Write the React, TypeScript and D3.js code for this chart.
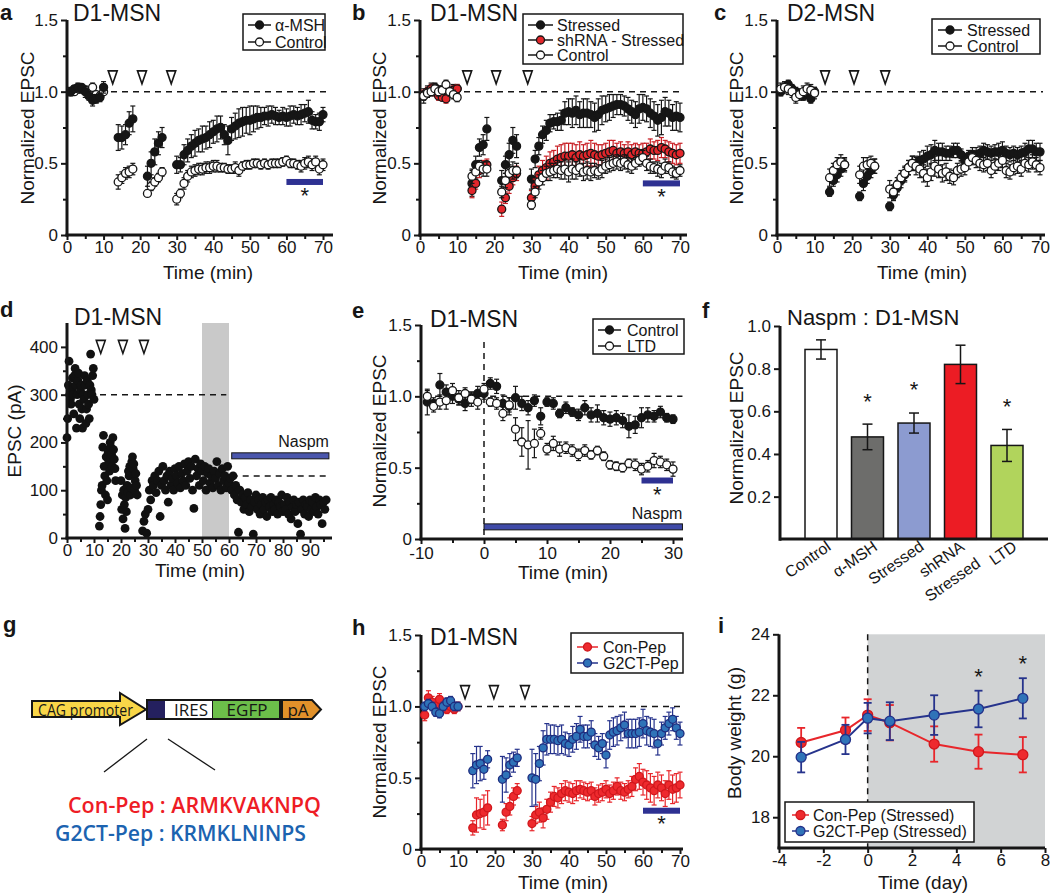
import React, { useEffect, useRef } from 'react'
import * as d3 from 'd3'

const FONT = '"Liberation Sans", Arial, sans-serif'
const INK = '#161616'

// sampling grid of the a, b, c, h recordings (min)
const RUN_TIMES = [...d3.range(1, 11), ...d3.range(14, 19), ...d3.range(22, 27), ...d3.range(30, 71)]

// a: alpha-MSH vs control
const A_MSH = [1.00, 1.02, 1.03, 1.02, 1.00, 0.97, 0.94, 0.95, 0.96, 1.03,
  0.68, 0.68, 0.70, 0.78, 0.81,
  0.41, 0.50, 0.58, 0.64, 0.68,
  0.49, 0.49, 0.56, 0.59, 0.62, 0.64, 0.66, 0.67, 0.68, 0.70, 0.72, 0.74, 0.75, 0.70, 0.66, 0.74, 0.76, 0.78, 0.79, 0.80, 0.80,
  0.81, 0.82, 0.82, 0.83, 0.83, 0.84, 0.83, 0.82, 0.83, 0.82, 0.83, 0.84, 0.83, 0.84, 0.85, 0.86, 0.80, 0.79, 0.79, 0.84]
const A_MSH_ERR = [0.03, 0.02, 0.03, 0.03, 0.04, 0.03, 0.04, 0.03, 0.03, 0.04,
  0.09, 0.08, 0.07, 0.08, 0.09,
  0.07, 0.08, 0.09, 0.08, 0.07,
  0.06, 0.05, 0.07, 0.08, 0.08, 0.09, 0.08, 0.09, 0.08, 0.09, 0.08, 0.09, 0.08, 0.07, 0.10, 0.08, 0.09, 0.10, 0.10, 0.09, 0.10,
  0.09, 0.08, 0.07, 0.06, 0.07, 0.06, 0.06, 0.05, 0.06, 0.06, 0.07, 0.06, 0.06, 0.07, 0.06, 0.08, 0.06, 0.05, 0.06, 0.05]
const A_CTRL = [1.00, 1.00, 1.02, 1.03, 1.01, 0.99, 1.03, 0.98, 0.97, 1.00,
  0.37, 0.40, 0.43, 0.44, 0.46,
  0.29, 0.34, 0.37, 0.40, 0.44,
  0.25, 0.29, 0.36, 0.41, 0.44, 0.45, 0.46, 0.46, 0.47, 0.47, 0.48, 0.48, 0.47, 0.47, 0.46, 0.46, 0.47, 0.45, 0.48, 0.49, 0.49,
  0.50, 0.50, 0.49, 0.50, 0.49, 0.50, 0.50, 0.50, 0.51, 0.52, 0.50, 0.50, 0.49, 0.48, 0.50, 0.51, 0.49, 0.51, 0.46, 0.49]
const A_CTRL_ERR = [0.02, 0.02, 0.03, 0.02, 0.02, 0.03, 0.03, 0.02, 0.02, 0.02,
  0.05, 0.04, 0.04, 0.04, 0.04,
  0.02, 0.03, 0.03, 0.03, 0.03,
  0.04, 0.03, 0.04, 0.04, 0.04, 0.04, 0.04, 0.04, 0.04, 0.04, 0.04, 0.04, 0.03, 0.03, 0.03, 0.03, 0.04, 0.04, 0.03, 0.03, 0.03,
  0.03, 0.03, 0.03, 0.03, 0.03, 0.03, 0.03, 0.03, 0.03, 0.03, 0.03, 0.03, 0.03, 0.04, 0.04, 0.04, 0.04, 0.04, 0.04, 0.04]

// b: stressed / shRNA-stressed / control
const B_STR = [0.97, 1.00, 1.02, 1.03, 1.01, 1.00, 0.99, 1.00, 1.01, 1.02,
  0.36, 0.49, 0.61, 0.63, 0.74,
  0.38, 0.49, 0.56, 0.66, 0.62,
  0.39, 0.53, 0.62, 0.70, 0.73, 0.78, 0.79, 0.79, 0.80, 0.85, 0.86, 0.85, 0.87, 0.84, 0.85, 0.85, 0.84, 0.82, 0.84, 0.87, 0.88,
  0.89, 0.90, 0.91, 0.91, 0.90, 0.88, 0.86, 0.84, 0.88, 0.89, 0.88, 0.85, 0.83, 0.80, 0.82, 0.86, 0.85, 0.82, 0.83, 0.82]
const B_STR_ERR = [0.05, 0.04, 0.04, 0.03, 0.03, 0.03, 0.04, 0.03, 0.04, 0.03,
  0.09, 0.06, 0.06, 0.07, 0.08,
  0.07, 0.06, 0.08, 0.09, 0.08,
  0.07, 0.06, 0.06, 0.06, 0.07, 0.06, 0.05, 0.06, 0.07, 0.08, 0.09, 0.10, 0.10, 0.09, 0.10, 0.10, 0.09, 0.10, 0.11, 0.10, 0.09,
  0.09, 0.08, 0.07, 0.07, 0.07, 0.08, 0.08, 0.09, 0.10, 0.09, 0.09, 0.10, 0.10, 0.11, 0.12, 0.10, 0.09, 0.09, 0.10, 0.10]
const B_SH = [0.98, 1.00, 1.02, 1.00, 0.97, 0.96, 0.95, 1.00, 1.01, 1.02,
  0.31, 0.36, 0.45, 0.48, 0.49,
  0.18, 0.26, 0.34, 0.40, 0.43,
  0.26, 0.34, 0.42, 0.45, 0.47, 0.50, 0.51, 0.53, 0.54, 0.55, 0.55, 0.56, 0.54, 0.56, 0.55, 0.56, 0.57, 0.56, 0.55, 0.56, 0.57,
  0.58, 0.59, 0.57, 0.58, 0.57, 0.58, 0.56, 0.58, 0.57, 0.57, 0.58, 0.60, 0.59, 0.59, 0.61, 0.60, 0.58, 0.57, 0.56, 0.57]
const B_SH_ERR = [0.03, 0.03, 0.03, 0.03, 0.03, 0.02, 0.03, 0.03, 0.03, 0.03,
  0.05, 0.04, 0.05, 0.04, 0.04,
  0.05, 0.04, 0.05, 0.05, 0.05,
  0.05, 0.05, 0.06, 0.07, 0.08, 0.08, 0.08, 0.09, 0.09, 0.09, 0.09, 0.08, 0.09, 0.09, 0.08, 0.08, 0.09, 0.08, 0.08, 0.07, 0.07,
  0.08, 0.07, 0.07, 0.07, 0.06, 0.07, 0.07, 0.06, 0.06, 0.07, 0.06, 0.07, 0.06, 0.07, 0.07, 0.06, 0.07, 0.07, 0.07, 0.07]
const B_CTRL = [0.97, 0.99, 1.00, 1.02, 1.00, 1.01, 1.05, 1.00, 0.98, 0.96,
  0.41, 0.44, 0.48, 0.46, 0.46,
  0.30, 0.38, 0.43, 0.45, 0.45,
  0.21, 0.30, 0.37, 0.40, 0.43, 0.44, 0.45, 0.46, 0.45, 0.46, 0.44, 0.46, 0.45, 0.47, 0.44, 0.45, 0.44, 0.45, 0.44, 0.46, 0.48,
  0.49, 0.50, 0.51, 0.50, 0.51, 0.49, 0.48, 0.50, 0.52, 0.54, 0.50, 0.48, 0.47, 0.46, 0.45, 0.48, 0.47, 0.44, 0.43, 0.45]
const B_CTRL_ERR = [0.03, 0.03, 0.03, 0.03, 0.03, 0.03, 0.03, 0.03, 0.03, 0.03,
  0.05, 0.05, 0.04, 0.05, 0.05,
  0.04, 0.05, 0.06, 0.06, 0.05,
  0.03, 0.04, 0.05, 0.05, 0.05, 0.06, 0.05, 0.06, 0.06, 0.07, 0.07, 0.07, 0.06, 0.06, 0.06, 0.06, 0.06, 0.05, 0.05, 0.06, 0.05,
  0.05, 0.05, 0.05, 0.05, 0.05, 0.05, 0.05, 0.04, 0.04, 0.05, 0.05, 0.05, 0.04, 0.05, 0.05, 0.05, 0.04, 0.04, 0.04, 0.04]

// c: D2-MSN stressed vs control
const C_STR = [1.00, 1.03, 1.05, 1.02, 1.00, 0.98, 0.97, 0.99, 0.95, 1.00,
  0.30, 0.38, 0.42, 0.46, 0.49,
  0.27, 0.36, 0.41, 0.45, 0.48,
  0.20, 0.28, 0.33, 0.38, 0.42, 0.47, 0.50, 0.50, 0.52, 0.53, 0.55, 0.56, 0.59, 0.58, 0.58, 0.57, 0.57, 0.59, 0.59, 0.56, 0.52,
  0.55, 0.56, 0.56, 0.57, 0.59, 0.58, 0.57, 0.58, 0.58, 0.59, 0.57, 0.56, 0.57, 0.56, 0.57, 0.58, 0.60, 0.60, 0.58, 0.58]
const C_STR_ERR = [0.03, 0.03, 0.03, 0.03, 0.03, 0.03, 0.03, 0.03, 0.03, 0.03,
  0.03, 0.04, 0.05, 0.05, 0.04,
  0.03, 0.05, 0.05, 0.05, 0.05,
  0.03, 0.04, 0.05, 0.05, 0.05, 0.05, 0.05, 0.05, 0.06, 0.06, 0.07, 0.07, 0.07, 0.06, 0.06, 0.05, 0.05, 0.05, 0.05, 0.04, 0.04,
  0.04, 0.05, 0.05, 0.05, 0.05, 0.05, 0.05, 0.05, 0.06, 0.06, 0.05, 0.05, 0.05, 0.05, 0.05, 0.06, 0.06, 0.06, 0.06, 0.06]
const C_CTRL = [1.02, 1.03, 1.02, 1.00, 0.96, 0.98, 1.00, 1.02, 1.01, 0.99,
  0.40, 0.45, 0.49, 0.51, 0.49,
  0.42, 0.48, 0.49, 0.50, 0.48,
  0.32, 0.30, 0.35, 0.40, 0.43, 0.47, 0.50, 0.48, 0.46, 0.43, 0.40, 0.44, 0.48, 0.46, 0.43, 0.44, 0.41, 0.40, 0.45, 0.46, 0.47,
  0.51, 0.54, 0.52, 0.50, 0.49, 0.50, 0.45, 0.48, 0.50, 0.52, 0.45, 0.44, 0.47, 0.48, 0.46, 0.50, 0.49, 0.51, 0.49, 0.47]
const C_CTRL_ERR = [0.04, 0.04, 0.04, 0.04, 0.04, 0.04, 0.04, 0.04, 0.04, 0.04,
  0.06, 0.05, 0.05, 0.05, 0.05,
  0.06, 0.06, 0.05, 0.05, 0.05,
  0.06, 0.05, 0.05, 0.05, 0.05, 0.05, 0.05, 0.06, 0.06, 0.06, 0.06, 0.06, 0.07, 0.06, 0.06, 0.06, 0.05, 0.05, 0.05, 0.05, 0.05,
  0.05, 0.05, 0.05, 0.05, 0.05, 0.05, 0.05, 0.05, 0.05, 0.05, 0.05, 0.05, 0.05, 0.05, 0.05, 0.05, 0.05, 0.05, 0.05, 0.05]

// h: Con-Pep vs G2CT-Pep
const H_CON = [0.94, 1.06, 1.03, 1.00, 1.05, 1.00, 0.98, 1.00, 0.98, 1.00,
  0.15, 0.24, 0.25, 0.26, 0.29,
  0.17, 0.26, 0.30, 0.37, 0.41,
  0.18, 0.24, 0.26, 0.22, 0.28, 0.33, 0.37, 0.36, 0.39, 0.41, 0.40, 0.39, 0.41, 0.42, 0.41, 0.40, 0.41, 0.37, 0.39, 0.40, 0.42,
  0.39, 0.41, 0.44, 0.41, 0.40, 0.42, 0.44, 0.49, 0.51, 0.47, 0.45, 0.43, 0.41, 0.45, 0.43, 0.39, 0.45, 0.42, 0.43, 0.45]
const H_CON_ERR = [0.04, 0.05, 0.04, 0.03, 0.04, 0.04, 0.03, 0.03, 0.03, 0.03,
  0.05, 0.12, 0.10, 0.12, 0.12,
  0.04, 0.06, 0.06, 0.06, 0.05,
  0.05, 0.06, 0.07, 0.07, 0.07, 0.07, 0.07, 0.07, 0.07, 0.07, 0.07, 0.07, 0.07, 0.06, 0.06, 0.06, 0.06, 0.06, 0.06, 0.06, 0.06,
  0.06, 0.06, 0.06, 0.06, 0.06, 0.06, 0.07, 0.08, 0.09, 0.09, 0.10, 0.10, 0.10, 0.09, 0.09, 0.09, 0.10, 0.10, 0.10, 0.09]
const H_G2 = [1.00, 1.02, 1.00, 0.96, 0.95, 1.00, 1.03, 1.04, 1.00, 1.00,
  0.55, 0.59, 0.60, 0.56, 0.63,
  0.49, 0.52, 0.59, 0.61, 0.64,
  0.50, 0.49, 0.60, 0.71, 0.77, 0.77, 0.77, 0.76, 0.77, 0.74, 0.73, 0.77, 0.79, 0.84, 0.79, 0.79, 0.82, 0.73, 0.71, 0.74, 0.66,
  0.80, 0.82, 0.83, 0.85, 0.87, 0.81, 0.81, 0.81, 0.82, 0.88, 0.83, 0.82, 0.81, 0.74, 0.81, 0.85, 0.88, 0.91, 0.85, 0.81]
const H_G2_ERR = [0.03, 0.03, 0.03, 0.03, 0.03, 0.03, 0.03, 0.03, 0.03, 0.03,
  0.12, 0.13, 0.12, 0.07, 0.06,
  0.16, 0.12, 0.08, 0.07, 0.06,
  0.20, 0.18, 0.12, 0.12, 0.11, 0.10, 0.10, 0.10, 0.10, 0.08, 0.08, 0.09, 0.09, 0.09, 0.08, 0.08, 0.08, 0.08, 0.08, 0.07, 0.09,
  0.10, 0.10, 0.10, 0.09, 0.09, 0.10, 0.10, 0.10, 0.10, 0.10, 0.10, 0.10, 0.10, 0.08, 0.08, 0.08, 0.08, 0.08, 0.08, 0.08]

// stimulation arrowheads (min)
const STIM_A = [12.5, 20.5, 28.5]
const STIM_B = [12.7, 20.5, 29]
const STIM_C = [12.8, 20.5, 28.8]
const STIM_H = [11.9, 19.7, 28.1]
const STIM_D = [12.5, 20.7, 28.5]

// d: single-cell EPSC amplitudes (pA)
const D_BASE_START = 0, D_BASE_STEP = 0.25
const D_BASE = [210, 250, 320, 370, 300, 290, 280, 310, 335, 300, 260, 340, 355, 320, 230, 300, 330, 345, 280, 250, 310,
  320, 270, 230, 300, 290, 340, 320, 240, 270, 330, 300, 280, 250, 320, 385, 310, 300, 340, 355, 290]
const D_P1_START = 12, D_P1_STEP = 0.25
const D_P1 = [25, 45, 70, 100, 110, 190, 215, 150, 130, 90, 170, 120, 80, 180, 160, 140, 200, 190, 175, 150, 210, 185, 165, 145, 120]
const D_P2_START = 20, D_P2_STEP = 0.25
const D_P2 = [120, 60, 90, 40, 100, 70, 20, 85, 55, 110, 95, 140, 130, 150, 90, 105, 160, 170, 145, 155, 100, 120, 135, 110, 90]
const D_P3_START = 28, D_P3_STEP = 0.5
const D_P3 = [15, 35, 50, 10, 60, 100, 80, 120, 110, 130, 95, 120, 140, 45, 110, 150, 120, 100, 130, 75, 140, 110, 125, 100,
  145, 130, 115, 150, 105, 135, 120, 155, 110, 140, 160, 125, 150, 100, 62, 165, 130, 145, 110, 155, 140, 120, 150, 100,
  135, 145, 115, 130, 105, 140, 125, 160, 110, 135, 100, 145, 120, 130, 105, 150, 115, 125, 100, 130, 90, 110, 80, 12,
  100, 75, 90, 60, 85, 70, 95, 55, 80, 65, 8, 75, 90, 60, 80, 50, 70, 85, 60, 75, 45, 80, 65, 85, 55, 70, 60, 80, 50, 75,
  65, 90, 55, 70, 60, 85, 50, 75, 40, 65, 80, 55, 70, 30, 75, 8, 60, 80, 50, 70, 65, 45, 80, 60, 75, 55, 85, 65, 50, 80,
  70, 30, 75, 60, 80]

// e: LTD experiment
const E_TIMES = d3.range(-9, 31)
const E_CTRL = [0.96, 0.95, 1.08, 1.03, 1.00, 0.98, 0.95, 0.99, 1.02, 1.02, 1.09, 1.07, 0.95, 0.93, 0.99, 0.95, 0.92, 0.97,
  0.86, 0.96, 0.95, 0.88, 0.92, 0.89, 0.87, 0.92, 0.87, 0.88, 0.85, 0.84, 0.85, 0.83, 0.79, 0.80, 0.85, 0.87, 0.86, 0.89, 0.85, 0.84]
const E_CTRL_ERR = [0.09, 0.04, 0.08, 0.05, 0.05, 0.04, 0.05, 0.04, 0.05, 0.04, 0.04, 0.05, 0.06, 0.06, 0.08, 0.05, 0.05, 0.04,
  0.06, 0.03, 0.04, 0.03, 0.04, 0.03, 0.04, 0.05, 0.05, 0.06, 0.05, 0.05, 0.05, 0.05, 0.08, 0.06, 0.07, 0.05, 0.04, 0.04, 0.03, 0.03]
const E_LTD = [1.00, 0.93, 0.96, 0.97, 1.04, 0.99, 1.02, 0.98, 0.96, 1.05, 0.96, 0.95, 0.88, 0.94, 0.77, 0.68, 0.66, 0.67,
  0.74, 0.63, 0.67, 0.63, 0.64, 0.62, 0.59, 0.62, 0.59, 0.62, 0.58, 0.52, 0.51, 0.50, 0.53, 0.52, 0.49, 0.51, 0.55, 0.54, 0.52, 0.49]
const E_LTD_ERR = [0.04, 0.04, 0.05, 0.06, 0.05, 0.05, 0.04, 0.05, 0.05, 0.04, 0.03, 0.04, 0.05, 0.05, 0.08, 0.10, 0.17, 0.10,
  0.04, 0.04, 0.05, 0.05, 0.04, 0.04, 0.04, 0.04, 0.03, 0.03, 0.03, 0.03, 0.03, 0.03, 0.03, 0.04, 0.04, 0.04, 0.05, 0.04, 0.04, 0.05]

// f: Naspm sensitivity
const F_GROUPS = ['Control', 'α-MSH', 'Stressed', 'shRNA\nStressed', 'LTD']
const F_MEANS = [0.89, 0.48, 0.545, 0.82, 0.44]
const F_SEM = [0.045, 0.06, 0.047, 0.09, 0.075]
const F_COLORS = ['#ffffff', '#6d6d6b', '#8c9bd0', '#ec1c24', '#b1d45c']
const F_SIG = [false, true, true, false, true]

// i: body weight
const I_DAYS = [-3, -1, 0, 1, 3, 5, 7]
const I_CON = [20.45, 20.85, 21.35, 21.1, 20.4, 20.15, 20.05]
const I_CON_ERR = [0.48, 0.42, 0.52, 0.58, 0.58, 0.56, 0.58]
const I_G2 = [19.97, 20.55, 21.25, 21.15, 21.35, 21.55, 21.9]
const I_G2_ERR = [0.5, 0.48, 0.5, 0.62, 0.65, 0.6, 0.66]
const I_SIG_DAYS = [5, 7]

const TICK_FS = 17
const TITLE_FS = 19

const fmtY = (d: number) => (d === 0 ? '0' : d3.format('.1f')(d))
const fmtSigned = (d: number) => d3.format('d')(d).replace('−', '-')

function axisLeft(g: any, y: any, x0: number, major: number[], minor: number[], fmt: any) {
  const ax = g.append('g').attr('transform', `translate(${x0},0)`)
  if (minor.length) ax.append('g').call(d3.axisLeft(y).tickValues(minor).tickSize(4).tickFormat(() => ''))
  ax.append('g').call(d3.axisLeft(y).tickValues(major).tickSize(6).tickPadding(3).tickFormat(fmt))
  ax.selectAll('.domain').remove()
  ax.selectAll('.tick line').attr('stroke', INK).attr('stroke-width', 2)
  ax.selectAll('.tick text').attr('font-family', FONT).attr('font-size', TICK_FS).attr('fill', INK)
  const [r0, r1] = y.range()
  ax.append('line').attr('y1', r0 + 1.5).attr('y2', r1).attr('stroke', INK).attr('stroke-width', 3)
}

function axisBottom(g: any, x: any, y0: number, major: number[], minor: number[], xEnd: number, fmt?: any, pad = 1) {
  const ax = g.append('g').attr('transform', `translate(0,${y0})`)
  if (minor.length) ax.append('g').call(d3.axisBottom(x).tickValues(minor).tickSize(4).tickFormat(() => ''))
  ax.append('g').call(d3.axisBottom(x).tickValues(major).tickSize(5).tickPadding(pad).tickFormat(fmt || d3.format('d')))
  ax.selectAll('.domain').remove()
  ax.selectAll('.tick line').attr('stroke', INK).attr('stroke-width', 2)
  ax.selectAll('.tick text').attr('font-family', FONT).attr('font-size', TICK_FS).attr('fill', INK)
  ax.append('line').attr('x1', x.range()[0] - 1.5).attr('x2', xEnd).attr('stroke', INK).attr('stroke-width', 3)
}

function label(g: any, x: number, y: number, s: string, size: number, opts: any = {}) {
  const t = g.append('text').attr('x', x).attr('y', y).attr('font-family', opts.family || FONT).attr('font-size', size)
    .attr('fill', opts.fill || INK).attr('text-anchor', opts.anchor || 'start').text(s)
  if (opts.bold) t.attr('font-weight', 'bold')
  if (opts.rotate) t.attr('transform', `rotate(${opts.rotate},${x},${y})`)
  return t
}

function panelText(g: any, cfg: any) {
  label(g, cfg.letter[1], cfg.letter[2], cfg.letter[0], 22, { bold: true })
  label(g, cfg.title[1], cfg.title[2], cfg.title[0], 23)
  label(g, cfg.yTitle[1], cfg.yTitle[2], cfg.yTitle[0], TITLE_FS, { anchor: 'middle', rotate: -90 })
  label(g, cfg.xTitle[1], cfg.xTitle[2], cfg.xTitle[0], TITLE_FS, { anchor: 'middle' })
}

function plotSeries(g: any, x: any, y: any, t: number[], v: number[], e: number[] | null, st: any) {
  const pts = t.map((tt, i) => ({ t: tt, v: v[i], e: e ? e[i] : 0 }))
  const s = g.append('g')
  const cw = st.cap ?? 2.5
  s.selectAll('line.eb').data(pts).join('line').attr('class', 'eb')
    .attr('x1', (d: any) => x(d.t)).attr('x2', (d: any) => x(d.t))
    .attr('y1', (d: any) => y(d.v - d.e)).attr('y2', (d: any) => y(d.v + d.e))
    .attr('stroke', st.err).attr('stroke-width', st.ew ?? 1.2)
  for (const sign of [1, -1]) {
    s.selectAll(`line.cap${sign}`).data(pts).join('line').attr('class', `cap${sign}`)
      .attr('x1', (d: any) => x(d.t) - cw).attr('x2', (d: any) => x(d.t) + cw)
      .attr('y1', (d: any) => y(d.v + sign * d.e)).attr('y2', (d: any) => y(d.v + sign * d.e))
      .attr('stroke', st.err).attr('stroke-width', st.ew ?? 1.2)
  }
  if (st.line) {
    s.append('path').datum(pts).attr('fill', 'none').attr('stroke', st.line).attr('stroke-width', 2)
      .attr('d', d3.line<any>().x(d => x(d.t)).y(d => y(d.v)))
  }
  s.selectAll('circle').data(pts).join('circle')
    .attr('cx', (d: any) => x(d.t)).attr('cy', (d: any) => y(d.v)).attr('r', st.r ?? 4)
    .attr('fill', st.fill).attr('stroke', st.stroke).attr('stroke-width', st.sw ?? 1.3)
}

function legend(g: any, box: number[], lineX: number[], textX: number, rows: number[], items: any[], size = 16) {
  g.append('rect').attr('x', box[0]).attr('y', box[1]).attr('width', box[2] - box[0]).attr('height', box[3] - box[1])
    .attr('fill', '#fff').attr('stroke', INK).attr('stroke-width', 1.5)
  items.forEach((it, i) => {
    const yy = rows[i]
    g.append('line').attr('x1', lineX[0]).attr('x2', lineX[1]).attr('y1', yy).attr('y2', yy)
      .attr('stroke', it.line || INK).attr('stroke-width', 1.5)
    g.append('circle').attr('cx', (lineX[0] + lineX[1]) / 2).attr('cy', yy).attr('r', it.r ?? 4)
      .attr('fill', it.fill).attr('stroke', it.stroke).attr('stroke-width', 1.3)
    label(g, textX, yy + size * 0.36, it.label, size)
  })
}

function stimMarks(g: any, x: any, y: any, times: number[], level: number) {
  g.selectAll(null).data(times).join('path')
    .attr('transform', (d: number) => `translate(${x(d)},${y(level)})`)
    .attr('d', 'M-4.5,-6.5L4.5,-6.5L0,6.5Z').attr('fill', '#fff').attr('stroke', INK).attr('stroke-width', 1.6)
}

function dashed(g: any, x1: number, y1: number, x2: number, y2: number, w = 1.5) {
  g.append('line').attr('x1', x1).attr('x2', x2).attr('y1', y1).attr('y2', y2)
    .attr('stroke', INK).attr('stroke-width', w).attr('stroke-dasharray', '6,5')
}

function sigBar(g: any, x: any, y: any, t0: number, t1: number, level: number, starLevel: number) {
  g.append('rect').attr('x', x(t0)).attr('y', y(level) - 3).attr('width', x(t1) - x(t0)).attr('height', 6).attr('fill', '#2e3192')
  label(g, x((t0 + t1) / 2), y(starLevel) + 10, '*', 22, { anchor: 'middle' })
}

const EPSC_MAJOR = [0, 0.5, 1, 1.5]
const EPSC_MINOR = [0.25, 0.75, 1.25]
const MIN_MAJOR = d3.range(0, 71, 10)
const MIN_MINOR = d3.range(5, 70, 10)

const OPEN = { fill: '#fff', stroke: INK, err: INK }
const FILLED = { fill: INK, stroke: INK, err: INK }

function drawA(svg: any) {
  const g = svg.append('g')
  const x = d3.scaleLinear([0, 70], [67, 323])
  const y = d3.scaleLinear([0, 1.5], [235, 20])
  dashed(g, x(0), y(1), x(70) + 4, y(1))
  axisLeft(g, y, 67, EPSC_MAJOR, EPSC_MINOR, fmtY)
  axisBottom(g, x, 235, MIN_MAJOR, MIN_MINOR, 333)
  stimMarks(g, x, y, STIM_A, 1.1)
  plotSeries(g, x, y, RUN_TIMES, A_CTRL, A_CTRL_ERR, OPEN)
  plotSeries(g, x, y, RUN_TIMES, A_MSH, A_MSH_ERR, FILLED)
  sigBar(g, x, y, 60, 70, 0.37, 0.29)
  panelText(g, { letter: ['a', 0, 20], title: ['D1-MSN', 73, 21], yTitle: ['Normalized EPSC', 34, 128], xTitle: ['Time (min)', 208, 279] })
  legend(g, [243, 14, 325, 50], [248, 271], 275, [25, 42], [
    { label: 'α-MSH', ...FILLED }, { label: 'Control', ...OPEN }])
}

function drawB(svg: any) {
  const g = svg.append('g')
  const x = d3.scaleLinear([0, 70], [420, 680])
  const y = d3.scaleLinear([0, 1.5], [235, 20])
  dashed(g, x(0), y(1), x(70) + 4, y(1))
  axisLeft(g, y, 420, EPSC_MAJOR, EPSC_MINOR, fmtY)
  axisBottom(g, x, 235, MIN_MAJOR, MIN_MINOR, 687)
  stimMarks(g, x, y, STIM_B, 1.1)
  plotSeries(g, x, y, RUN_TIMES, B_STR, B_STR_ERR, FILLED)
  plotSeries(g, x, y, RUN_TIMES, B_SH, B_SH_ERR, { fill: '#e3262b', stroke: INK, err: '#c81e24' })
  plotSeries(g, x, y, RUN_TIMES, B_CTRL, B_CTRL_ERR, OPEN)
  sigBar(g, x, y, 60, 70, 0.36, 0.285)
  panelText(g, { letter: ['b', 352, 20], title: ['D1-MSN', 430, 21], yTitle: ['Normalized EPSC', 386, 128], xTitle: ['Time (min)', 563, 279] })
  legend(g, [523, 14, 683, 64], [528, 553], 557, [25, 40, 55], [
    { label: 'Stressed', ...FILLED }, { label: 'shRNA - Stressed', fill: '#e3262b', stroke: INK }, { label: 'Control', ...OPEN }])
}

function drawC(svg: any) {
  const g = svg.append('g')
  const x = d3.scaleLinear([0, 70], [777, 1040])
  const y = d3.scaleLinear([0, 1.5], [235, 20])
  dashed(g, x(0), y(1), x(70) + 3, y(1))
  axisLeft(g, y, 777, EPSC_MAJOR, EPSC_MINOR, fmtY)
  axisBottom(g, x, 235, MIN_MAJOR, MIN_MINOR, 1045)
  stimMarks(g, x, y, STIM_C, 1.1)
  plotSeries(g, x, y, RUN_TIMES, C_STR, C_STR_ERR, FILLED)
  plotSeries(g, x, y, RUN_TIMES, C_CTRL, C_CTRL_ERR, OPEN)
  panelText(g, { letter: ['c', 714, 20], title: ['D2-MSN', 787, 21], yTitle: ['Normalized EPSC', 743, 128], xTitle: ['Time (min)', 922, 279] })
  legend(g, [932, 19, 1040, 54], [938, 962], 967, [30, 46], [
    { label: 'Stressed', ...FILLED }, { label: 'Control', ...OPEN }])
}

function drawD(svg: any) {
  const g = svg.append('g')
  const x = d3.scaleLinear([0, 90], [67, 310])
  const y = d3.scaleLinear([0, 450], [538, 323])
  g.append('rect').attr('x', x(50)).attr('y', y(450)).attr('width', x(60) - x(50)).attr('height', y(0) - y(450)).attr('fill', '#c9c9c9')
  dashed(g, x(0), y(300), x(59), y(300))
  dashed(g, x(61), y(130), x(97), y(130))
  const segs = [[D_BASE_START, D_BASE_STEP, D_BASE], [D_P1_START, D_P1_STEP, D_P1], [D_P2_START, D_P2_STEP, D_P2], [D_P3_START, D_P3_STEP, D_P3]] as any[]
  const pts: any[] = []
  segs.forEach(([t0, dt, vals]) => vals.forEach((v: number, i: number) => pts.push({ t: t0 + i * dt, v })))
  g.append('g').selectAll('circle').data(pts).join('circle')
    .attr('cx', (d: any) => x(d.t)).attr('cy', (d: any) => y(d.v)).attr('r', 4.4).attr('fill', '#111')
  axisLeft(g, y, 67, [0, 100, 200, 300, 400], [50, 150, 250, 350], d3.format('d'))
  axisBottom(g, x, 538, d3.range(0, 91, 10), d3.range(5, 96, 10), 332)
  stimMarks(g, x, y, STIM_D, 400)
  g.append('rect').attr('x', x(61)).attr('y', y(172) - 3).attr('width', x(97) - x(61)).attr('height', 6)
    .attr('fill', '#4a56ac').attr('stroke', INK).attr('stroke-width', 1)
  label(g, x(97), 447, 'Naspm', 16, { anchor: 'end' })
  panelText(g, { letter: ['d', 0, 317], title: ['D1-MSN', 74, 325], yTitle: ['EPSC (pA)', 21, 431], xTitle: ['Time (min)', 200, 577] })
}

function drawE(svg: any) {
  const g = svg.append('g')
  const x = d3.scaleLinear([-10, 30], [421, 673])
  const y = d3.scaleLinear([0, 1.5], [539, 325])
  dashed(g, x(-9.5), y(1), x(31.5), y(1))
  dashed(g, x(0), y(1.38), x(0), y(0))
  axisLeft(g, y, 421, EPSC_MAJOR, EPSC_MINOR, fmtY)
  axisBottom(g, x, 539, [-10, 0, 10, 20, 30], [-5, 5, 15, 25], 683, fmtSigned, 3)
  g.append('rect').attr('x', x(0)).attr('y', y(0.085) - 3).attr('width', x(31.5) - x(0)).attr('height', 6)
    .attr('fill', '#3f4aa8').attr('stroke', INK).attr('stroke-width', 1)
  label(g, x(31.5), 519, 'Naspm', 16, { anchor: 'end' })
  plotSeries(g, x, y, E_TIMES, E_CTRL, E_CTRL_ERR, FILLED)
  plotSeries(g, x, y, E_TIMES, E_LTD, E_LTD_ERR, OPEN)
  sigBar(g, x, y, 25, 30, 0.41, 0.33)
  panelText(g, { letter: ['e', 352, 318], title: ['D1-MSN', 430, 327], yTitle: ['Normalized EPSC', 386, 431], xTitle: ['Time (min)', 563, 579] })
  legend(g, [593, 319, 684, 354], [598, 621], 627, [330, 346], [
    { label: 'Control', ...FILLED }, { label: 'LTD', ...OPEN }])
}

function drawF(svg: any) {
  const g = svg.append('g')
  const x = d3.scaleBand(F_GROUPS, [786.4, 1041.6]).paddingInner(0.312).paddingOuter(0.4)
  const y = d3.scaleLinear([0, 1], [539.3, 326])
  const data = F_GROUPS.map((k, i) => ({ k, m: F_MEANS[i], e: F_SEM[i], c: F_COLORS[i], s: F_SIG[i] }))
  g.selectAll('rect.bar').data(data).join('rect').attr('class', 'bar')
    .attr('x', (d: any) => x(d.k)).attr('y', (d: any) => y(d.m)).attr('width', x.bandwidth()).attr('height', (d: any) => y(0) - y(d.m))
    .attr('fill', (d: any) => d.c).attr('stroke', INK).attr('stroke-width', 1.5)
  const cx = (d: any) => (x(d.k) as number) + x.bandwidth() / 2
  g.selectAll('line.eb').data(data).join('line').attr('class', 'eb')
    .attr('x1', cx).attr('x2', cx).attr('y1', (d: any) => y(d.m - d.e)).attr('y2', (d: any) => y(d.m + d.e))
    .attr('stroke', INK).attr('stroke-width', 1.5)
  for (const sign of [1, -1]) {
    g.selectAll(`line.c${sign}`).data(data).join('line').attr('class', `c${sign}`)
      .attr('x1', (d: any) => cx(d) - 5).attr('x2', (d: any) => cx(d) + 5)
      .attr('y1', (d: any) => y(d.m + sign * d.e)).attr('y2', (d: any) => y(d.m + sign * d.e))
      .attr('stroke', INK).attr('stroke-width', 1.5)
  }
  g.selectAll('text.star').data(data.filter(d => d.s)).join('text').attr('class', 'star')
    .attr('x', cx).attr('y', (d: any) => y(d.m + d.e + 0.12) + 10).attr('text-anchor', 'middle')
    .attr('font-family', FONT).attr('font-size', 22).attr('fill', INK).text('*')
  axisLeft(g, y, 780, [0.2, 0.4, 0.6, 0.8, 1.0], [], d3.format('.1f'))
  g.append('line').attr('x1', 780).attr('x2', 1048).attr('y1', 539).attr('y2', 539).attr('stroke', INK).attr('stroke-width', 3)
  data.forEach((d: any) => {
    const lines = d.k.split('\n')
    lines.forEach((ln: string, j: number) => {
      const ax = cx(d) + (lines.length > 1 ? 5 + j * 16 : 11)
      const ay = 549 + j * 17
      g.append('text').attr('transform', `translate(${ax},${ay}) rotate(-35)`).attr('text-anchor', 'end')
        .attr('font-family', FONT).attr('font-size', 16).attr('fill', INK).text(ln)
    })
  })
  label(g, 702, 318, 'f', 22, { bold: true })
  label(g, 787, 325, 'Naspm : D1-MSN', 22)
  label(g, 743, 428, 'Normalized EPSC', TITLE_FS, { anchor: 'middle', rotate: -90 })
}

function drawG(svg: any) {
  const g = svg.append('g')
  label(g, 3, 632, 'g', 22, { bold: true })
  const yTop = 700, yBot = 719, yMid = (yTop + yBot) / 2
  g.append('path').attr('d', `M32,701L120,701L120,693L146,${yMid}L120,725L120,717L32,717Z`)
    .attr('fill', '#f9d648').attr('stroke', INK).attr('stroke-width', 2)
  g.append('rect').attr('x', 147).attr('y', yTop).attr('width', 18).attr('height', yBot - yTop).attr('fill', '#24205f')
  g.append('rect').attr('x', 165).attr('y', yTop).attr('width', 47).attr('height', yBot - yTop).attr('fill', '#fff')
  g.append('rect').attr('x', 213).attr('y', yTop).attr('width', 66).attr('height', yBot - yTop).attr('fill', '#6cbe4a')
  g.append('rect').attr('x', 147).attr('y', yTop).attr('width', 133).attr('height', yBot - yTop).attr('fill', 'none').attr('stroke', INK).attr('stroke-width', 2)
  g.append('line').attr('x1', 212.5).attr('x2', 212.5).attr('y1', yTop).attr('y2', yBot).attr('stroke', INK).attr('stroke-width', 1)
  g.append('path').attr('d', `M282,${yTop}L312,${yTop}L321,${yMid}L312,${yBot}L282,${yBot}Z`)
    .attr('fill', '#e2912a').attr('stroke', INK).attr('stroke-width', 2)
  const SANS = '"Open Sans", sans-serif'
  label(g, 38, 716, 'CAG promoter', 17, { family: SANS }).attr('textLength', 95).attr('lengthAdjust', 'spacingAndGlyphs')
  label(g, 191, 716, 'IRES', 17, { anchor: 'middle', family: SANS })
  label(g, 247, 716, 'EGFP', 17, { anchor: 'middle', family: SANS })
  label(g, 298, 716, 'pA', 17, { anchor: 'middle', family: SANS })
  g.append('line').attr('x1', 147).attr('y1', 739).attr('x2', 104).attr('y2', 772).attr('stroke', INK).attr('stroke-width', 1.3)
  g.append('line').attr('x1', 168).attr('y1', 739).attr('x2', 215).attr('y2', 770).attr('stroke', INK).attr('stroke-width', 1.3)
  label(g, 68, 813, 'Con-Pep : ARMKVAKNPQ', 21, { fill: '#ee1c25', family: SANS })
    .attr('font-weight', 600).attr('textLength', 253).attr('lengthAdjust', 'spacingAndGlyphs')
  label(g, 55, 841, 'G2CT-Pep : KRMKLNINPS', 21, { fill: '#1c63b0', family: SANS })
    .attr('font-weight', 600).attr('textLength', 251).attr('lengthAdjust', 'spacingAndGlyphs')
}

function drawH(svg: any) {
  const g = svg.append('g')
  const x = d3.scaleLinear([0, 70], [421, 680])
  const y = d3.scaleLinear([0, 1.5], [849.3, 635])
  dashed(g, x(0), y(1), x(70) + 4, y(1))
  axisLeft(g, y, 421, EPSC_MAJOR, EPSC_MINOR, fmtY)
  axisBottom(g, x, 849, MIN_MAJOR, MIN_MINOR, 683)
  stimMarks(g, x, y, STIM_H, 1.1)
  plotSeries(g, x, y, RUN_TIMES, H_CON, H_CON_ERR, { fill: '#ee2a2e', stroke: '#d0181d', err: '#e8262b' })
  plotSeries(g, x, y, RUN_TIMES, H_G2, H_G2_ERR, { fill: '#2f73b8', stroke: '#1f2d7f', err: '#26338c' })
  sigBar(g, x, y, 60, 70, 0.27, 0.2)
  panelText(g, { letter: ['h', 352, 635], title: ['D1-MSN', 430, 645], yTitle: ['Normalized EPSC', 386, 742], xTitle: ['Time (min)', 563, 889] })
  legend(g, [571, 633, 683, 673], [577, 598], 603, [647, 663], [
    { label: 'Con-Pep', fill: '#ee2a2e', stroke: '#d0181d', line: '#e8262b' },
    { label: 'G2CT-Pep', fill: '#2f73b8', stroke: '#1f2d7f', line: '#26338c' }])
}

function drawI(svg: any) {
  const g = svg.append('g')
  const x = d3.scaleLinear([-4, 8], [779, 1045])
  const y = d3.scaleLinear([17, 24], [847.7, 634.3])
  g.append('rect').attr('x', x(0)).attr('y', y(24)).attr('width', x(8) - x(0)).attr('height', y(17) - y(24)).attr('fill', '#d1d3d4')
  dashed(g, x(0), y(24), x(0), y(17), 1.5)
  axisLeft(g, y, 779, [18, 20, 22, 24], [], d3.format('d'))
  axisBottom(g, x, 848, d3.range(-4, 9, 2), [], 1045, fmtSigned)
  const red = { fill: '#ee2a2e', stroke: '#d0181d', err: '#e8262b', line: '#e8262b', r: 5, cap: 4, ew: 1.8 }
  const blue = { fill: '#2f73b8', stroke: '#23318a', err: '#26338c', line: '#26338c', r: 5, cap: 4, ew: 1.8 }
  plotSeries(g, x, y, I_DAYS, I_CON, I_CON_ERR, red)
  plotSeries(g, x, y, I_DAYS, I_G2, I_G2_ERR, blue)
  I_SIG_DAYS.forEach(d => {
    const k = I_DAYS.indexOf(d)
    label(g, x(d), y(I_G2[k] + I_G2_ERR[k] + 0.55) + 10, '*', 22, { anchor: 'middle' })
  })
  label(g, 718, 633, 'i', 22, { bold: true })
  label(g, 741, 733, 'Body weight (g)', TITLE_FS, { anchor: 'middle', rotate: -90 })
  label(g, 923, 889, 'Time (day)', TITLE_FS, { anchor: 'middle' })
  legend(g, [785, 802, 974, 842], [792, 809], 813, [815, 831], [
    { label: 'Con-Pep (Stressed)', fill: '#ee2a2e', stroke: '#d0181d', line: '#e8262b', r: 4.5 },
    { label: 'G2CT-Pep (Stressed)', fill: '#2f73b8', stroke: '#23318a', line: '#26338c', r: 4.5 }])
}

export default function App() {
  const ref = useRef<SVGSVGElement>(null)
  useEffect(() => {
    if (!ref.current) return
    const svg = d3.select(ref.current)
    svg.selectAll('*').remove()
    svg.append('rect').attr('width', 1050).attr('height', 894).attr('fill', '#fff')
    drawA(svg)
    drawB(svg)
    drawC(svg)
    drawD(svg)
    drawE(svg)
    drawF(svg)
    drawG(svg)
    drawH(svg)
    drawI(svg)
  }, [])
  return <svg ref={ref} width={1050} height={894} style={{ position: 'absolute', left: 0, top: 0 }} />
}
